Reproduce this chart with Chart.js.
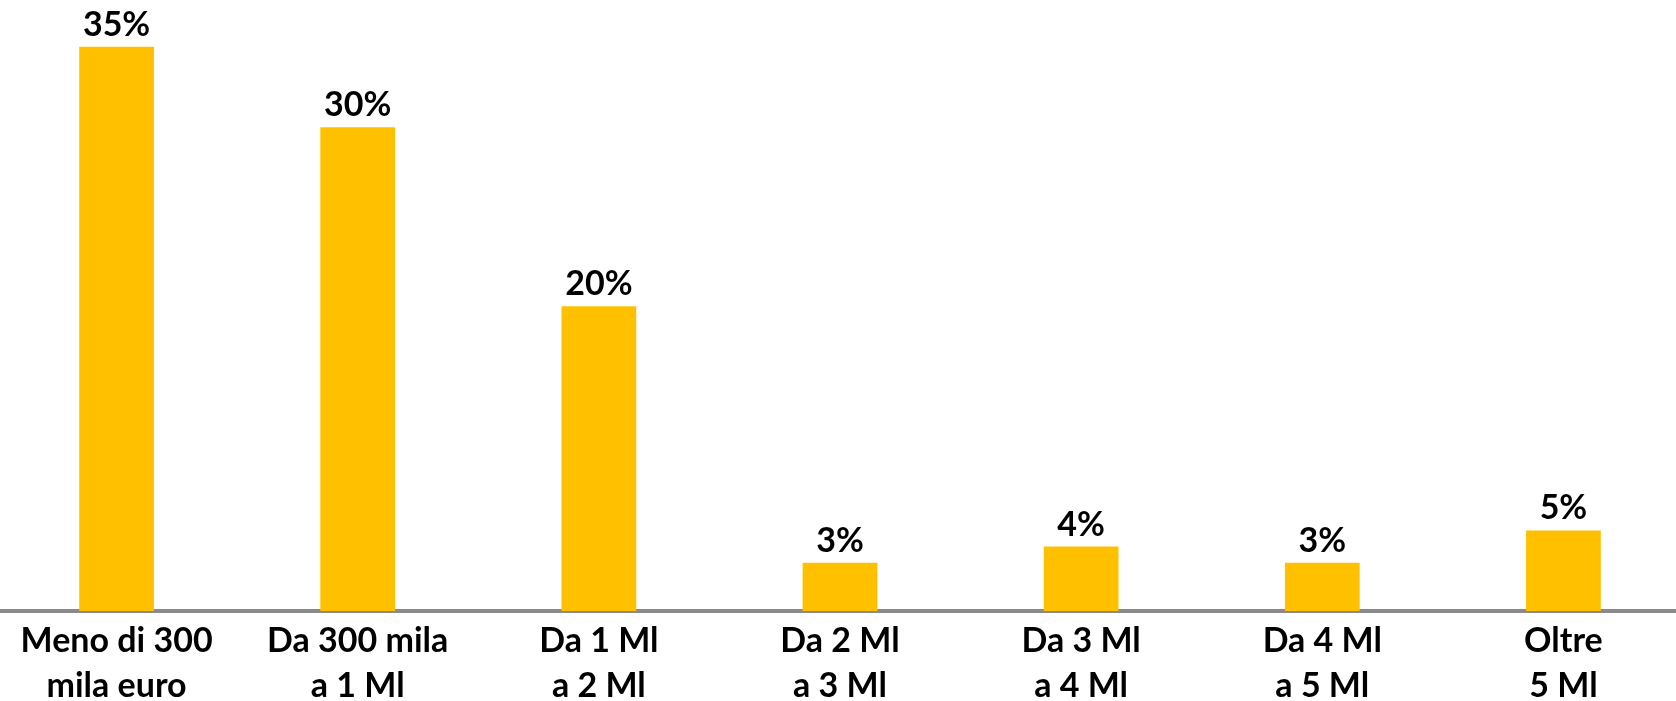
<!DOCTYPE html>
<html>
<head>
<meta charset="utf-8">
<script src="https://cdn.jsdelivr.net/npm/chart.js@4.4.0/dist/chart.umd.min.js"></script>
<style>
  html, body { margin: 0; padding: 0; background: #fff; }
  #wrap { width: 1676px; height: 701px; position: relative; overflow: hidden; }
  #box { position: absolute; left: -4px; top: 0; width: 1688px; height: 721px; }
</style>
</head>
<body>
<div id="wrap"><div id="box"><canvas id="fatturato-Chart"></canvas></div></div>
<script>
// fasce di fatturato
var categories = [
    ['Meno di 300', 'mila euro'],
    ['Da 300 mila', 'a 1 Ml'],
    ['Da 1 Ml', 'a 2 Ml'],
    ['Da 2 Ml', 'a 3 Ml'],
    ['Da 3 Ml', 'a 4 Ml'],
    ['Da 4 Ml', 'a 5 Ml'],
    ['Oltre', '5 Ml']
];
var shares = [35, 30, 18.9, 3, 4, 3, 5];
var shareLabels = ['35%', '30%', '20%', '3%', '4%', '3%', '5%'];

var FONT = 'Lato, "Noto Sans", sans-serif';

// etichette sopra le barre
var valueLabels = {
    id: 'valueLabels',
    afterDatasetsDraw: function(chart) {
        var ctx = chart.ctx;
        var meta = chart.getDatasetMeta(0);
        ctx.save();
        ctx.font = 'bold 34px ' + FONT;
        ctx.fillStyle = '#000';
        ctx.textAlign = 'center';
        ctx.textBaseline = 'alphabetic';
        meta.data.forEach(function(bar, i) {
            ctx.fillText(shareLabels[i], bar.x, bar.y - 11);
        });
        ctx.restore();
    }
};

new Chart('fatturato-Chart', {
    type: 'bar',
    data: {
        labels: categories,
        datasets: [{
            data: shares,
            backgroundColor: '#FFC000',
            borderWidth: 0,
            categoryPercentage: 1,
            barPercentage: 0.31
        }]
    },
    options: {
        responsive: true,
        maintainAspectRatio: false,
        animation: false,
        layout: { padding: 0 },
        plugins: {
            legend: { display: false },
            tooltip: { enabled: false }
        },
        scales: {
            x: {
                afterFit: function(scale) { scale.height = 110; },
                grid: { display: false, drawTicks: false },
                border: { display: true, color: '#8a8a8a', width: 4 },
                ticks: {
                    color: '#000',
                    padding: 7,
                    maxRotation: 0,
                    autoSkip: false,
                    font: { family: FONT, size: 34, weight: 'bold', lineHeight: 1.34 }
                }
            },
            y: {
                display: false,
                min: 0,
                max: 37.9
            }
        }
    },
    plugins: [valueLabels]
});
</script>
</body>
</html>
